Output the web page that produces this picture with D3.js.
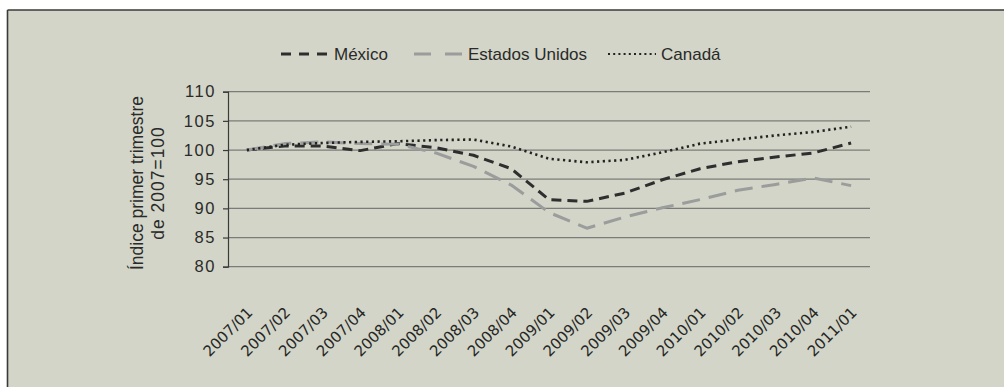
<!DOCTYPE html>
<html>
<head>
<meta charset="utf-8">
<script src="https://cdn.jsdelivr.net/npm/d3@7"></script>
<style>
  html, body { margin: 0; padding: 0; background: #ffffff; }
  svg { display: block; }
</style>
</head>
<body>
<svg id="chart" width="1004" height="387"></svg>
<script>
// Quarterly index, first quarter of 2007 = 100
const quarters = ["2007/01","2007/02","2007/03","2007/04","2008/01","2008/02","2008/03","2008/04",
                  "2009/01","2009/02","2009/03","2009/04","2010/01","2010/02","2010/03","2010/04","2011/01"];
const mexico        = [100, 100.7, 100.7, 99.9, 101.1, 100.4, 99.1, 96.8, 91.5, 91.2, 92.6, 94.9, 96.8, 98.0, 98.8, 99.5, 101.2];
const estadosUnidos = [100, 101.1, 101.4, 101.1, 101.0, 99.5, 97.2, 94.0, 89.3, 86.6, 88.5, 90.1, 91.5, 93.1, 94.1, 95.2, 93.9];
const canada        = [100, 100.9, 101.2, 101.4, 101.5, 101.7, 101.8, 100.6, 98.5, 97.9, 98.3, 99.6, 101.1, 101.8, 102.5, 103.1, 104.0];
const yTicks = [80, 85, 90, 95, 100, 105, 110];
const seriesNames = ["México", "Estados Unidos", "Canadá"];

const series = [
  { name: seriesNames[0], values: mexico,        color: "#2e2e2e", width: 3,   dash: "10,6" },
  { name: seriesNames[1], values: estadosUnidos, color: "#9b9c9c", width: 3,   dash: "18,9" },
  { name: seriesNames[2], values: canada,        color: "#222222", width: 2.6, dash: "2.2,3.5" }
];

const svg = d3.select("#chart");
const font = "'Liberation Sans', Arial, Helvetica, sans-serif";

// Panel background with its top and left rules
svg.append("rect").attr("x", 8).attr("y", 10).attr("width", 996).attr("height", 377).attr("fill", "#d2d5c7");
svg.append("line").attr("x1", 7.5).attr("x2", 1004).attr("y1", 10).attr("y2", 10).attr("stroke", "#3a3a3a").attr("stroke-width", 1.6);
svg.append("line").attr("x1", 7.5).attr("x2", 7.5).attr("y1", 10).attr("y2", 387).attr("stroke", "#3a3a3a").attr("stroke-width", 1.6);

const plot = { left: 228, right: 870, top: 91.7, bottom: 266.7 };

const x = d3.scaleBand().domain(quarters).range([plot.left, plot.right]);
const y = d3.scaleLinear().domain([80, 110]).range([plot.bottom, plot.top]);
const cx = q => x(q) + x.bandwidth() / 2;

// Horizontal gridlines
svg.append("g").selectAll("line").data(yTicks).join("line")
  .attr("x1", plot.left).attr("x2", plot.right)
  .attr("y1", d => y(d)).attr("y2", d => y(d))
  .attr("stroke", "#7b7c7a").attr("stroke-width", 1.3);

// Y axis
const yAxis = svg.append("g").attr("transform", `translate(${plot.left},0)`)
  .call(d3.axisLeft(y).tickValues(yTicks).tickSize(5).tickPadding(7));
yAxis.select(".domain").attr("stroke", "#3a3a3a").attr("stroke-width", 1.2);
yAxis.selectAll(".tick line").attr("stroke", "#3a3a3a").attr("stroke-width", 1.2);
yAxis.selectAll(".tick text")
  .attr("font-family", font).attr("font-size", 16.5).attr("fill", "#2a2a2a")
  .style("letter-spacing", "1.6px");

// Y axis title (two lines)
const yTitle = svg.append("text")
  .attr("transform", "translate(143,183) rotate(-90)")
  .attr("text-anchor", "middle")
  .attr("font-family", font).attr("font-size", 17.5).attr("fill", "#2a2a2a");
yTitle.append("tspan").attr("x", 0).attr("dy", 0).text("Índice primer trimestre");
yTitle.append("tspan").attr("x", 0).attr("dy", 21).style("letter-spacing", "1px").text("de 2007=100");

// X axis labels, rotated
const xAxis = svg.append("g").attr("transform", `translate(0,${plot.bottom})`)
  .call(d3.axisBottom(x).tickSize(0).tickPadding(0));
xAxis.select(".domain").remove();
xAxis.selectAll(".tick text")
  .attr("font-family", "'DejaVu Sans', Verdana, sans-serif").attr("font-size", 15).attr("fill", "#262626")
  .attr("text-anchor", "end")
  .attr("transform", "translate(3,43) rotate(-45)")
  .attr("dy", "0.35em").attr("y", 0);

// Series lines
const line = d3.line().x((d, i) => cx(quarters[i])).y(d => y(d)).curve(d3.curveLinear);
svg.append("g").selectAll("path").data(series).join("path")
  .attr("d", d => line(d.values))
  .attr("fill", "none")
  .attr("stroke", d => d.color)
  .attr("stroke-width", d => d.width)
  .attr("stroke-dasharray", d => d.dash)
  .attr("stroke-linejoin", "round");

// Legend
const legendItems = [
  { s: series[0], x0: 281, x1: 328, tx: 334 },
  { s: series[1], x0: 414, x1: 463, tx: 468 },
  { s: series[2], x0: 608, x1: 656, tx: 661 }
];
const legendY = 54;
const lg = svg.append("g");
legendItems.forEach(it => {
  lg.append("line")
    .attr("x1", it.x0).attr("x2", it.x1).attr("y1", legendY).attr("y2", legendY)
    .attr("stroke", it.s.color).attr("stroke-width", it.s === series[2] ? 2.2 : 3)
    .attr("stroke-dasharray", it.s === series[0] ? "10,8" : it.s === series[1] ? "17,14" : "2,3.2");
  lg.append("text")
    .attr("x", it.tx).attr("y", legendY).attr("dy", "0.35em")
    .attr("font-family", font).attr("font-size", 17).attr("fill", "#2a2a2a")
    .text(it.s.name);
});
</script>
</body>
</html>
